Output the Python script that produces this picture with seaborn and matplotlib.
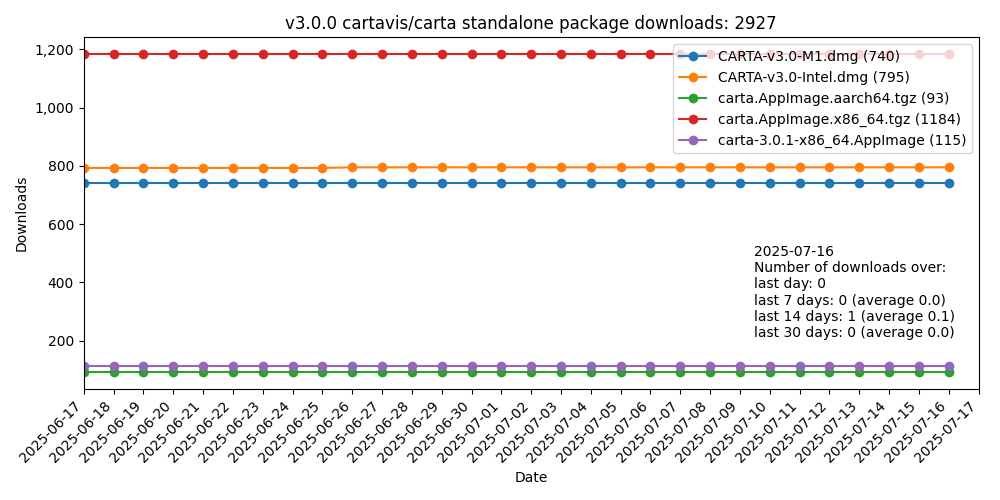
import matplotlib
matplotlib.use("Agg")
import matplotlib.pyplot as plt
import matplotlib.dates as mdates
import matplotlib.ticker as mticker
import seaborn as sns
import pandas as pd
import numpy as np

dates = pd.date_range("2025-06-17", "2025-07-16", freq="D")
m1 = [742] * 30
intel = [793] * 9 + [795] * 21
aarch64 = [93] * 30
x86 = [1184] * 30
appimage = [115] * 30
labels = ["CARTA-v3.0-M1.dmg (740)", "CARTA-v3.0-Intel.dmg (795)",
          "carta.AppImage.aarch64.tgz (93)", "carta.AppImage.x86_64.tgz (1184)",
          "carta-3.0.1-x86_64.AppImage (115)"]
series = [m1, intel, aarch64, x86, appimage]

rows = []
for lab, vals in zip(labels, series):
    for d, v in zip(dates, vals):
        rows.append({"Date": d, "Downloads": v, "file": lab})
df = pd.DataFrame(rows)

fig, ax = plt.subplots(figsize=(10, 5), dpi=100)
sns.lineplot(data=df, x="Date", y="Downloads", hue="file", marker="o",
             markeredgewidth=0, markersize=7, palette="tab10", ax=ax)
ax.legend(loc="upper right", title=None)
ax.set_title("v3.0.0 cartavis/carta standalone package downloads: 2927")
ax.set_xlim(pd.Timestamp("2025-06-17"), pd.Timestamp("2025-07-17"))
ax.set_ylim(34, 1241)
ax.xaxis.set_major_locator(mdates.DayLocator())
ax.xaxis.set_major_formatter(mdates.DateFormatter("%Y-%m-%d"))
ax.yaxis.set_major_formatter(mticker.FuncFormatter(lambda v, p: f"{int(v):,}"))
plt.setp(ax.get_xticklabels(), rotation=45, ha="right")
ax.text(0.749, 0.14, "2025-07-16\nNumber of downloads over:\nlast day: 0\n"
        "last 7 days: 0 (average 0.0)\nlast 14 days: 1 (average 0.1)\n"
        "last 30 days: 0 (average 0.0)", transform=ax.transAxes,
        ha="left", va="bottom", fontsize=10)
fig.tight_layout()
fig.savefig("out.png")
